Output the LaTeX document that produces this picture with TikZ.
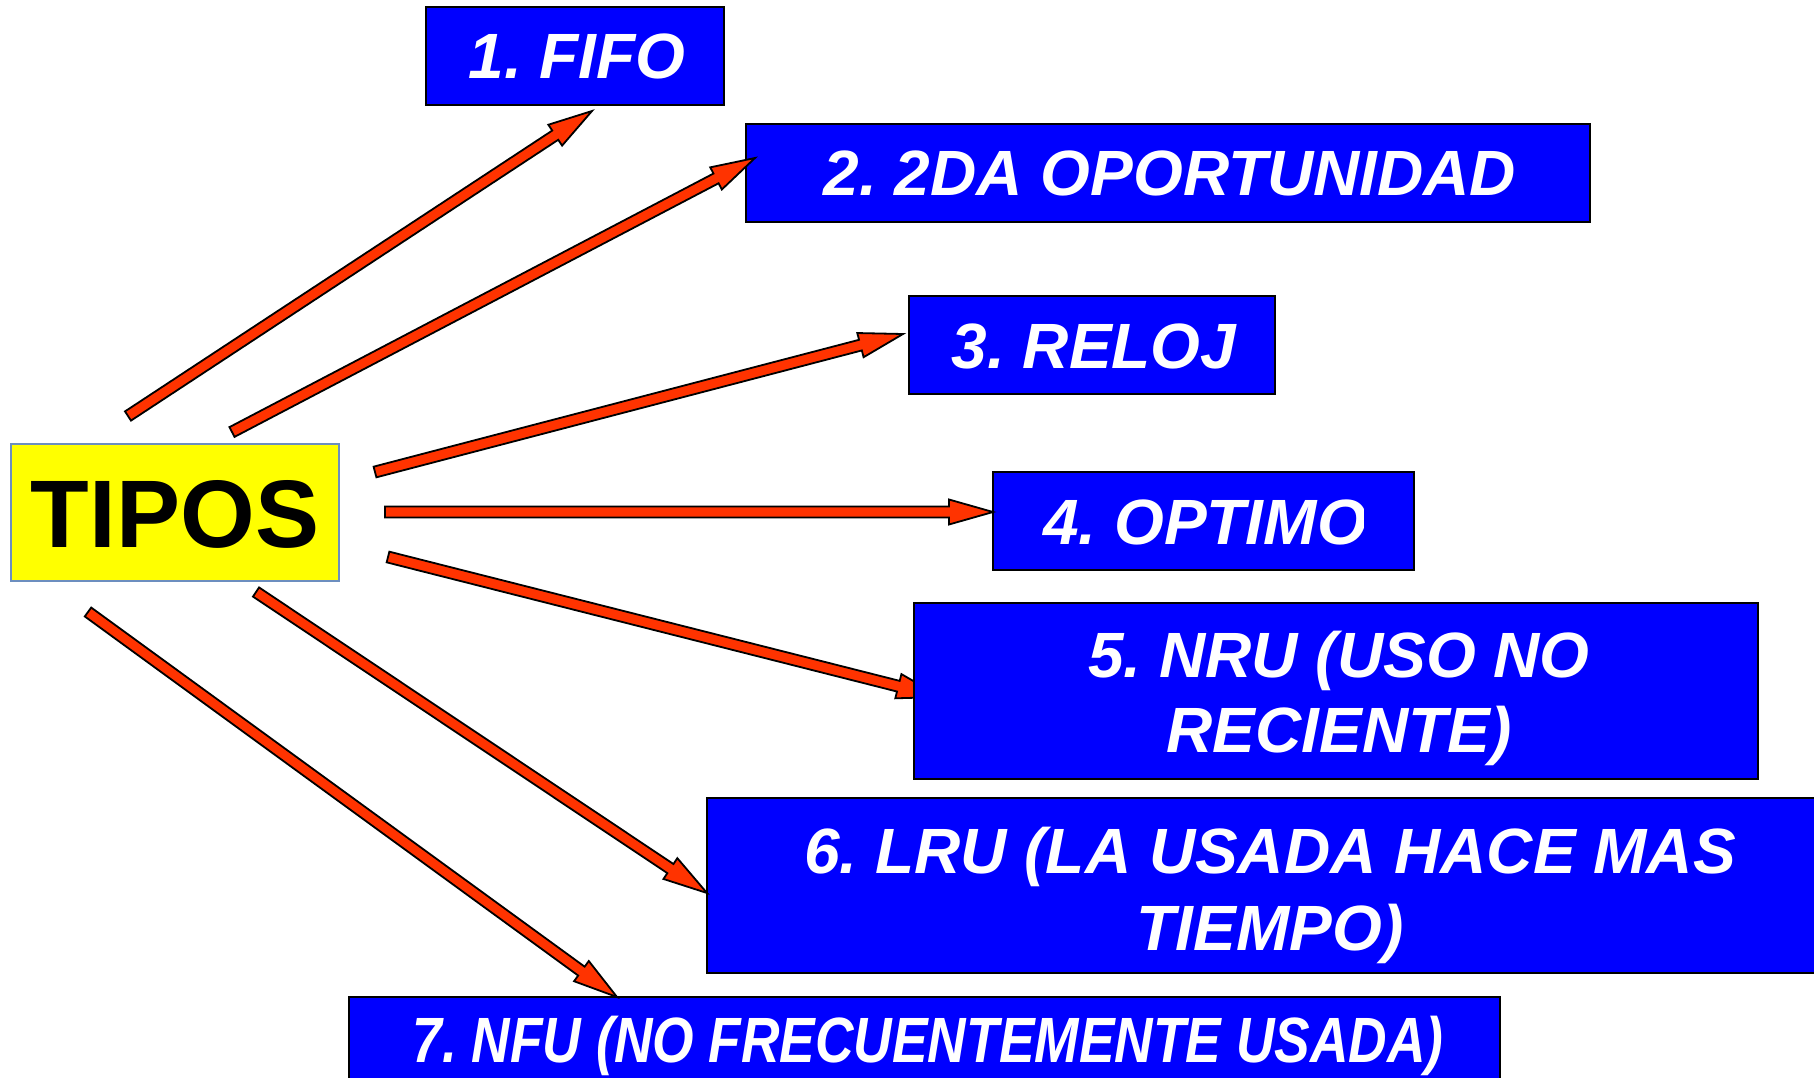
\documentclass[tikz,border=0pt]{standalone}
\usepackage{fontspec}
\setmainfont{Liberation Sans}
\usetikzlibrary{calc}
\frenchspacing
\definecolor{arrred}{RGB}{255,51,0}
\definecolor{boxblue}{RGB}{0,0,255}
\definecolor{tipyellow}{RGB}{255,255,0}
\definecolor{tipborder}{RGB}{108,142,191}
\tikzset{
  bluebox/.style={draw=black, line width=2.5pt, fill=boxblue, inner sep=0pt, outer sep=0pt},
  boxtext/.style={text=white, font=\fontsize{64}{64}\selectfont\bfseries\itshape\frenchspacing, anchor=base, inner sep=0pt},
  tipbox/.style={draw=tipborder, line width=2.5pt, fill=tipyellow, inner sep=0pt, outer sep=0pt},
  tiptext/.style={text=black, font=\fontsize{96}{96}\selectfont\bfseries, anchor=base, inner sep=0pt},
  blockarrow/.style={draw=black, line width=1.8pt, fill=arrred, line join=miter},
}
\newcommand\myblockarrow[2]{%
  \path ($(#2)!44pt!(#1)$) coordinate (hb);
  \filldraw[blockarrow] ($(#1)!5.5pt!90:(#2)$) -- ($(hb)!5.5pt!90:(#2)$) -- ($(hb)!12.5pt!90:(#2)$) -- (#2) -- ($(hb)!12.5pt!-90:(#2)$) -- ($(hb)!5.5pt!-90:(#2)$) -- ($(#1)!5.5pt!-90:(#2)$) -- cycle;}
\begin{document}
\begin{tikzpicture}[x=1pt,y=-1pt]
\clip (0,0) rectangle (1814,1078);
\fill[white] (0,0) rectangle (1814,1078);
% arrow end points
\coordinate (t1) at (128,416);  \coordinate (h1) at (592,111);
\coordinate (t2) at (232,432);  \coordinate (h2) at (755,158);
\coordinate (t3) at (375,472);  \coordinate (h3) at (903,334);
\coordinate (t4) at (385,512);  \coordinate (h4) at (993,512);
\coordinate (t5) at (388,557);  \coordinate (h5) at (941,697);
\coordinate (t6) at (256,592);  \coordinate (h6) at (707,893);
\coordinate (t7) at (88,612);   \coordinate (h7) at (617,997);
% arrow hidden under box 5
\myblockarrow{t5}{h5}
% source box
\node[tipbox, minimum width=328pt, minimum height=137pt] (tipos) at (175,512.5) {};
\node[tiptext] (tiposlabel) at (175,547) {TIPOS};
% target boxes
\node[bluebox, minimum width=298pt, minimum height=98pt] (b1) at (575,56) {};
\node[boxtext] (b1t) at (577,79) {1. FIFO};
\node[bluebox, minimum width=844pt, minimum height=98pt] (b2) at (1168,173) {};
\node[boxtext] (b2t) at (1170,196) {2. 2DA OPORTUNIDAD};
\node[bluebox, minimum width=366pt, minimum height=98pt] (b3) at (1092,345) {};
\node[boxtext] (b3t) at (1094,368) {3. RELOJ};
\node[bluebox, minimum width=421pt, minimum height=98pt] (b4) at (1203.5,521) {};
\begin{scope}
\clip (993,472) rectangle (1363,570);
\node[boxtext] (b4t) at (1205,544) {4. OPTIMO};
\end{scope}
\node[bluebox, minimum width=844pt, minimum height=176pt] (b5) at (1336,691) {};
\node[boxtext] (b5t) at (1339,677) {5. NRU (USO NO};
\node[boxtext] (b5u) at (1339,752) {RECIENTE)};
\node[bluebox, minimum width=1123pt, minimum height=175pt] (b6) at (1268.5,885.5) {};
\node[boxtext] (b6t) at (1270,873) {6. LRU (LA USADA HACE MAS};
\node[boxtext] (b6u) at (1270,950) {TIEMPO)};
\node[bluebox, minimum width=1151pt, minimum height=90pt] (b7) at (924.5,1042) {};
\node[boxtext] (b7t) at (928,1062) {\scalebox{0.833}[1]{7. NFU (NO FRECUENTEMENTE USADA)}};
% arrows on top
\myblockarrow{t1}{h1}
\myblockarrow{t2}{h2}
\myblockarrow{t3}{h3}
\myblockarrow{t4}{h4}
\myblockarrow{t6}{h6}
\myblockarrow{t7}{h7}
\end{tikzpicture}
\end{document}
